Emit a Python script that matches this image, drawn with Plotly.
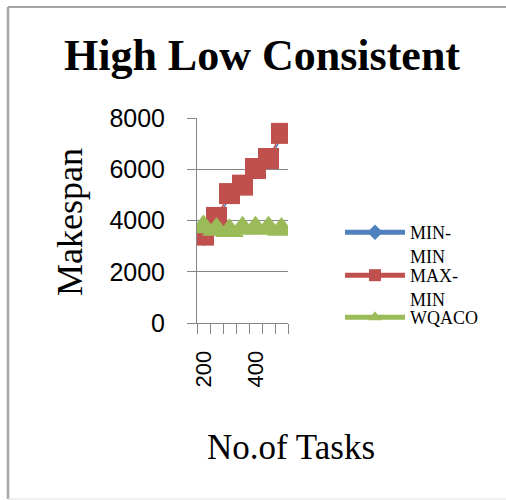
import plotly.graph_objects as go

# Number of tasks (x categories) and makespan of each scheduler
TASKS = [200, 250, 300, 350, 400, 450, 500]
MIN_MIN = [3250, 4000, 4900, 5250, 5900, 6300, 7250]
MAX_MIN = [3430, 4120, 5050, 5380, 6030, 6420, 7400]
WQACO = [3750, 3650, 3600, 3700, 3700, 3700, 3650]
Y_TICKS = [0, 2000, 4000, 6000, 8000]

W, H = 506, 500
L, R, T, B = 197, 218, 118, 177
PW, PH = W - L - R, H - T - B

SERIF = "Liberation Serif, Times New Roman, serif"
SANS = "Liberation Sans, Arial, sans-serif"

cats = [str(t) for t in TASKS]
# show every fourth category label, keep all tick marks
tick_text = [c if i % 4 == 0 else "" for i, c in enumerate(cats)]


def px_x(px):
    return (px - L) / PW


def px_y(py):
    return (H - B - py) / PH


fig = go.Figure()
series = [
    ("MIN-<br>MIN", MIN_MIN, "#4F81BD", "diamond", 10, "legend"),
    ("MAX-<br>MIN", MAX_MIN, "#C0504D", "square", 21, "legend2"),
    ("WQACO", WQACO, "#9BBB59", "triangle-up", 25, "legend3"),
]
for name, vals, color, sym, size, leg in series:
    fig.add_trace(go.Scatter(
        x=cats, y=vals, name=name, mode="lines+markers",
        line=dict(color=color, width=1.5),
        marker=dict(symbol=sym, size=size, color=color),
        legend=leg,
    ))

leg_common = dict(
    xref="container", yref="container", xanchor="left", yanchor="top",
    font=dict(family=SERIF, size=18, color="black"),
    itemsizing="constant", itemwidth=60, valign="top",
    bgcolor="rgba(0,0,0,0)", borderwidth=0,
)
fig.update_layout(
    legend=dict(x=340 / W, y=1 - 214 / H, **leg_common),
    legend2=dict(x=340 / W, y=1 - 257 / H, **leg_common),
    legend3=dict(x=340 / W, y=1 - 299 / H, **leg_common),
)

fig.update_layout(
    width=W, height=H,
    margin=dict(l=L, r=R, t=T, b=B),
    paper_bgcolor="white", plot_bgcolor="white",
    showlegend=True,
    title=dict(
        text="<b>High Low Consistent</b>",
        font=dict(family=SERIF, size=44, color="black"),
        xref="container", yref="container",
        x=262 / W, y=1 - 55 / H, xanchor="center", yanchor="middle",
    ),
    xaxis=dict(
        type="category", range=[-0.5, len(cats) - 0.5],
        tickmode="array", tickvals=cats, ticktext=tick_text,
        tickson="boundaries", ticks="outside", ticklen=10,
        tickcolor="#868686", tickwidth=1,
        tickangle=-90, ticklabelstandoff=18,
        tickfont=dict(family=SANS, size=22, color="black"),
        showline=True, linecolor="#868686", linewidth=1,
        showgrid=False, zeroline=False,
    ),
    yaxis=dict(
        range=[0, 8000], tickmode="array", tickvals=Y_TICKS,
        ticks="outside", ticklen=9, tickcolor="#868686", tickwidth=1,
        ticklabelstandoff=17,
        tickfont=dict(family=SANS, size=25, color="black"),
        showline=True, linecolor="#868686", linewidth=1,
        showgrid=True, gridcolor="#868686", gridwidth=1,
        zeroline=False,
    ),
    annotations=[
        dict(text="Makespan", textangle=-90, xref="paper", yref="paper",
             x=px_x(70), y=px_y(222), xanchor="center", yanchor="middle",
             showarrow=False, font=dict(family=SERIF, size=36, color="black")),
        dict(text="No.of Tasks", xref="paper", yref="paper",
             x=px_x(291), y=px_y(447), xanchor="center", yanchor="middle",
             showarrow=False, font=dict(family=SERIF, size=35, color="black")),
    ],
    shapes=[
        # chart frame (left, top and bottom edges)
        dict(type="line", xref="paper", yref="paper", x0=px_x(8), x1=px_x(8),
             y0=px_y(7), y1=px_y(499), line=dict(color="#A6A6A6", width=2.5)),
        dict(type="line", xref="paper", yref="paper", x0=px_x(8), x1=px_x(520),
             y0=px_y(7), y1=px_y(7), line=dict(color="#A6A6A6", width=2)),
        dict(type="line", xref="paper", yref="paper", x0=px_x(8), x1=px_x(520),
             y0=px_y(499), y1=px_y(499), line=dict(color="#E0E0E0", width=1)),
    ],
)

fig.write_html("out.html")
